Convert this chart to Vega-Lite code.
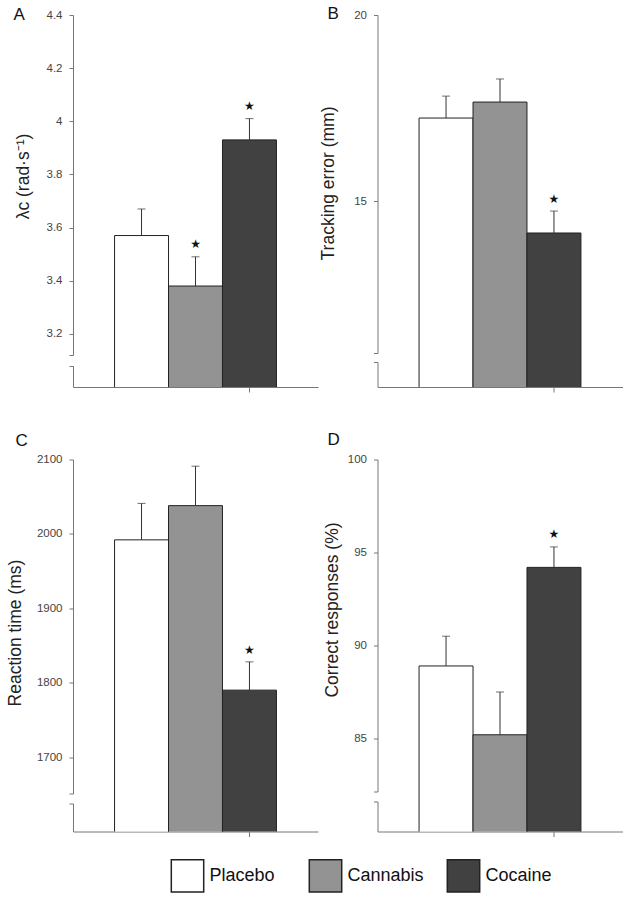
{
  "$schema": "https://vega.github.io/schema/vega-lite/v6.json",
  "background": "white",
  "padding": {"left": 6, "top": 5, "right": 5, "bottom": 5},
  "config": {
    "view": {"stroke": null},
    "font": "Liberation Sans",
    "axis": {"grid": false, "labelFont": "Liberation Sans", "titleFont": "Liberation Sans"},
    "title": {"font": "Liberation Sans"}
  },
  "datasets": {
    "A": [
      {"condition": "Placebo", "mean": 3.57, "upper": 3.67, "star": ""},
      {"condition": "Cannabis", "mean": 3.38, "upper": 3.49, "star": "★"},
      {"condition": "Cocaine", "mean": 3.93, "upper": 4.01, "star": "★"}
    ],
    "B": [
      {"condition": "Placebo", "mean": 17.23, "upper": 17.82, "star": ""},
      {"condition": "Cannabis", "mean": 17.66, "upper": 18.28, "star": ""},
      {"condition": "Cocaine", "mean": 14.14, "upper": 14.73, "star": "★"}
    ],
    "C": [
      {"condition": "Placebo", "mean": 1992, "upper": 2041, "star": ""},
      {"condition": "Cannabis", "mean": 2038, "upper": 2091, "star": ""},
      {"condition": "Cocaine", "mean": 1790, "upper": 1828, "star": "★"}
    ],
    "D": [
      {"condition": "Placebo", "mean": 88.9, "upper": 90.5, "star": ""},
      {"condition": "Cannabis", "mean": 85.2, "upper": 87.5, "star": ""},
      {"condition": "Cocaine", "mean": 94.2, "upper": 95.3, "star": "★"}
    ]
  },
  "columns": 2,
  "bounds": "flush",
  "spacing": {"row": 72.5, "column": 59.5},
  "concat": [
    {
      "width": 245, "height": 372,
      "title": {"text": "A", "anchor": "start", "frame": "group", "orient": "top", "offset": 0, "dy": 28, "dx": -59.5, "fontSize": 17, "fontWeight": "normal", "color": "#111", "baseline": "alphabetic"},
      "data": {"name": "A"},
      "encoding": {
        "x": {"field": "condition", "type": "nominal", "sort": ["Placebo", "Cannabis", "Cocaine"],
          "scale": {"paddingInner": 0, "paddingOuter": 0.77},
          "axis": {"title": null, "labels": false, "domainColor": "#777", "tickColor": "#777", "tickSize": 5, "values": ["Cocaine"], "encode": {"ticks": {"update": {"x": {"value": 245}}}}}}
      },
      "layer": [
        {
          "mark": {"type": "bar", "stroke": "#222", "strokeWidth": 1, "clip": true},
          "encoding": {
            "y": {"field": "mean", "type": "quantitative", "scale": {"domain": [3.0, 4.4], "zero": false, "nice": false},
              "axis": {"values": [3.08, 3.12, 3.2, 3.4, 3.6, 3.8, 4, 4.2, 4.4], "format": "~g",
                "labelExpr": "datum.value < 3.15 ? '' : datum.label",
                "domainColor": "#777", "domainDash": [21.3, 10.6, 1000], "tickColor": "#777", "tickSize": 4,
                "labelColor": "#444", "labelFontSize": 11.5, "labelPadding": 7,
                "title": "λc (rad·s⁻¹)", "titleFontSize": 17.5, "titleFontWeight": "normal", "titleColor": "#222",
                "titleAngle": 270, "titleAlign": "center", "titleBaseline": "middle", "titleX": -50, "titleY": 161,
                "encode": {"ticks": {"update": {
                  "x": [{"test": "datum.value < 3.1", "value": 5}, {"test": "datum.value < 3.15", "value": 10}, {"value": 0}],
                  "x2": [{"test": "datum.value < 3.1", "value": -6}, {"test": "datum.value < 3.15", "value": -9}, {"value": -4}]
                }}}}},
            "fill": {"field": "condition", "type": "nominal", "scale": {"domain": ["Placebo", "Cannabis", "Cocaine"], "range": ["#ffffff", "#939393", "#414141"]},
              "legend": {"orient": "none", "legendX": 97.5, "legendY": 843.5, "direction": "horizontal", "columns": 3, "gridAlign": "all", "title": null,
                "symbolType": "square", "symbolSize": 1050, "symbolStrokeColor": "#444", "symbolStrokeWidth": 1.5,
                "labelFontSize": 18, "labelFont": "Liberation Sans", "labelColor": "#111", "labelOffset": 5, "columnPadding": 19, "padding": 0, "labelLimit": 300}}
          }
        },
        {"mark": {"type": "rule", "color": "#333", "strokeWidth": 1}, "encoding": {"y": {"field": "mean", "type": "quantitative"}, "y2": {"field": "upper"}}},
        {"mark": {"type": "tick", "color": "#333", "thickness": 1, "size": 8}, "encoding": {"y": {"field": "upper", "type": "quantitative"}}},
        {"mark": {"type": "text", "font": "DejaVu Sans", "fontSize": 12, "dy": -13, "baseline": "middle", "color": "#111"}, "encoding": {"y": {"field": "upper", "type": "quantitative"}, "text": {"field": "star"}}}
      ]
    },
    {
      "width": 245, "height": 372,
      "title": {"text": "B", "anchor": "start", "frame": "group", "orient": "top", "offset": 0, "dy": 27, "dx": -50, "fontSize": 17, "fontWeight": "normal", "color": "#111", "baseline": "alphabetic"},
      "data": {"name": "B"},
      "encoding": {
        "x": {"field": "condition", "type": "nominal", "sort": ["Placebo", "Cannabis", "Cocaine"],
          "scale": {"paddingInner": 0, "paddingOuter": 0.77},
          "axis": {"title": null, "labels": false, "domainColor": "#777", "tickColor": "#777", "tickSize": 5, "values": ["Cocaine"], "encode": {"ticks": {"update": {"x": {"value": 245}}}}}}
      },
      "layer": [
        {
          "mark": {"type": "bar", "stroke": "#222", "strokeWidth": 1, "clip": true},
          "encoding": {
            "y": {"field": "mean", "type": "quantitative", "scale": {"domain": [10, 20], "zero": false, "nice": false},
              "axis": {"values": [10.67, 10.91, 15, 20], "format": "d",
                "labelExpr": "datum.value < 12 ? '' : datum.label",
                "domainColor": "#777", "domainDash": [25, 9, 1000], "tickColor": "#777", "tickSize": 4,
                "labelColor": "#444", "labelFontSize": 11.5, "labelPadding": 7,
                "title": "Tracking error (mm)", "titleFontSize": 17.5, "titleFontWeight": "normal", "titleColor": "#222",
                "titleAngle": 270, "titleAlign": "center", "titleBaseline": "middle", "titleX": -49, "titleY": 168,
                "encode": {"ticks": {"update": {
                  "x": [{"test": "datum.value < 10.8", "value": 5}, {"test": "datum.value < 12", "value": 10}, {"value": 0}],
                  "x2": [{"test": "datum.value < 10.8", "value": -4}, {"test": "datum.value < 12", "value": -9}, {"value": -4}]
                }}}}},
            "fill": {"field": "condition", "type": "nominal", "scale": {"domain": ["Placebo", "Cannabis", "Cocaine"], "range": ["#ffffff", "#939393", "#414141"]}}
          }
        },
        {"mark": {"type": "rule", "color": "#333", "strokeWidth": 1}, "encoding": {"y": {"field": "mean", "type": "quantitative"}, "y2": {"field": "upper"}}},
        {"mark": {"type": "tick", "color": "#333", "thickness": 1, "size": 8}, "encoding": {"y": {"field": "upper", "type": "quantitative"}}},
        {"mark": {"type": "text", "font": "DejaVu Sans", "fontSize": 12, "dy": -12, "baseline": "middle", "color": "#111"}, "encoding": {"y": {"field": "upper", "type": "quantitative"}, "text": {"field": "star"}}}
      ]
    },
    {
      "width": 245, "height": 372,
      "title": {"text": "C", "anchor": "start", "frame": "group", "orient": "top", "offset": 0, "dy": 15, "dx": -57.5, "fontSize": 17, "fontWeight": "normal", "color": "#111", "baseline": "alphabetic"},
      "data": {"name": "C"},
      "encoding": {
        "x": {"field": "condition", "type": "nominal", "sort": ["Placebo", "Cannabis", "Cocaine"],
          "scale": {"paddingInner": 0, "paddingOuter": 0.77},
          "axis": {"title": null, "labels": false, "domainColor": "#777", "tickColor": "#777", "tickSize": 5, "values": ["Cocaine"], "encode": {"ticks": {"update": {"x": {"value": 245}}}}}}
      },
      "layer": [
        {
          "mark": {"type": "bar", "stroke": "#222", "strokeWidth": 1, "clip": true},
          "encoding": {
            "y": {"field": "mean", "type": "quantitative", "scale": {"domain": [1600, 2100], "zero": false, "nice": false},
              "axis": {"values": [1638, 1651, 1700, 1800, 1900, 2000, 2100], "format": "d",
                "labelExpr": "datum.value < 1690 ? '' : datum.label",
                "domainColor": "#777", "domainDash": [28, 10, 1000], "tickColor": "#777", "tickSize": 4,
                "labelColor": "#444", "labelFontSize": 11.5, "labelPadding": 7,
                "title": "Reaction time (ms)", "titleFontSize": 17.5, "titleFontWeight": "normal", "titleColor": "#222",
                "titleAngle": 270, "titleAlign": "center", "titleBaseline": "middle", "titleX": -58, "titleY": 173,
                "encode": {"ticks": {"update": {
                  "x": [{"test": "datum.value < 1645", "value": 5}, {"test": "datum.value < 1690", "value": 10}, {"value": 0}],
                  "x2": [{"test": "datum.value < 1645", "value": -5}, {"test": "datum.value < 1690", "value": -9}, {"value": -4}]
                }}}}},
            "fill": {"field": "condition", "type": "nominal", "scale": {"domain": ["Placebo", "Cannabis", "Cocaine"], "range": ["#ffffff", "#939393", "#414141"]}}
          }
        },
        {"mark": {"type": "rule", "color": "#333", "strokeWidth": 1}, "encoding": {"y": {"field": "mean", "type": "quantitative"}, "y2": {"field": "upper"}}},
        {"mark": {"type": "tick", "color": "#333", "thickness": 1, "size": 8}, "encoding": {"y": {"field": "upper", "type": "quantitative"}}},
        {"mark": {"type": "text", "font": "DejaVu Sans", "fontSize": 12, "dy": -12, "baseline": "middle", "color": "#111"}, "encoding": {"y": {"field": "upper", "type": "quantitative"}, "text": {"field": "star"}}}
      ]
    },
    {
      "width": 245, "height": 372,
      "title": {"text": "D", "anchor": "start", "frame": "group", "orient": "top", "offset": 0, "dy": 8, "dx": -50, "fontSize": 17, "fontWeight": "normal", "color": "#111", "baseline": "alphabetic"},
      "data": {"name": "D"},
      "encoding": {
        "x": {"field": "condition", "type": "nominal", "sort": ["Placebo", "Cannabis", "Cocaine"],
          "scale": {"paddingInner": 0, "paddingOuter": 0.77},
          "axis": {"title": null, "labels": false, "domainColor": "#777", "tickColor": "#777", "tickSize": 5, "values": ["Cocaine"], "encode": {"ticks": {"update": {"x": {"value": 245}}}}}}
      },
      "layer": [
        {
          "mark": {"type": "bar", "stroke": "#222", "strokeWidth": 1, "clip": true},
          "encoding": {
            "y": {"field": "mean", "type": "quantitative", "scale": {"domain": [80, 100], "zero": false, "nice": false},
              "axis": {"values": [81.61, 82.15, 85, 90, 95, 100], "format": "d",
                "labelExpr": "datum.value < 84 ? '' : datum.label",
                "domainColor": "#777", "domainDash": [30, 10, 1000], "tickColor": "#777", "tickSize": 4,
                "labelColor": "#444", "labelFontSize": 11.5, "labelPadding": 7,
                "title": "Correct responses (%)", "titleFontSize": 17.5, "titleFontWeight": "normal", "titleColor": "#222",
                "titleAngle": 270, "titleAlign": "center", "titleBaseline": "middle", "titleX": -45, "titleY": 150,
                "encode": {"ticks": {"update": {
                  "x": [{"test": "datum.value < 81.9", "value": 5}, {"test": "datum.value < 84", "value": 10}, {"value": 0}],
                  "x2": [{"test": "datum.value < 81.9", "value": -5}, {"test": "datum.value < 84", "value": -9}, {"value": -4}]
                }}}}},
            "fill": {"field": "condition", "type": "nominal", "scale": {"domain": ["Placebo", "Cannabis", "Cocaine"], "range": ["#ffffff", "#939393", "#414141"]}}
          }
        },
        {"mark": {"type": "rule", "color": "#333", "strokeWidth": 1}, "encoding": {"y": {"field": "mean", "type": "quantitative"}, "y2": {"field": "upper"}}},
        {"mark": {"type": "tick", "color": "#333", "thickness": 1, "size": 8}, "encoding": {"y": {"field": "upper", "type": "quantitative"}}},
        {"mark": {"type": "text", "font": "DejaVu Sans", "fontSize": 12, "dy": -13, "baseline": "middle", "color": "#111"}, "encoding": {"y": {"field": "upper", "type": "quantitative"}, "text": {"field": "star"}}}
      ]
    }
  ]
}
